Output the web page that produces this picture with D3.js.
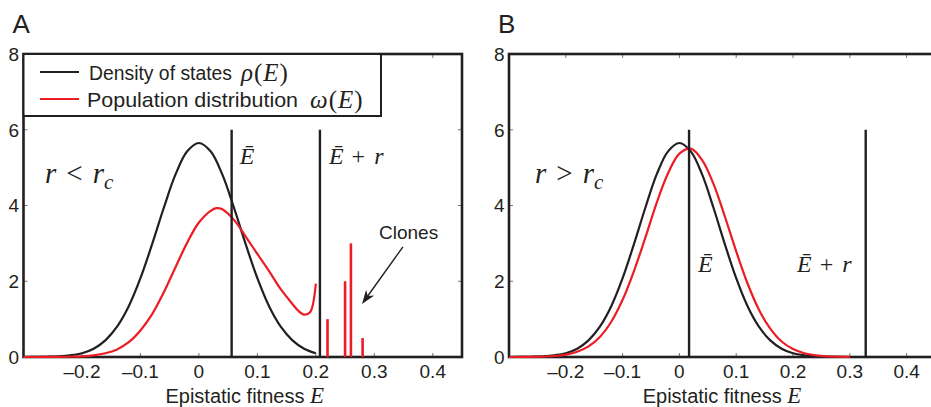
<!DOCTYPE html>
<html>
<head>
<meta charset="utf-8">
<script src="https://cdn.jsdelivr.net/npm/d3@7"></script>
<style>
body { margin: 0; background: #fff; }
text { font-family: "Liberation Sans", Arial, Helvetica, sans-serif; fill: #231f20; }
.math { font-family: "Liberation Serif", "Times New Roman", serif; font-style: italic; }
.rm { font-style: normal; }
</style>
</head>
<body>
<svg id="chart" width="931" height="407"></svg>
<script>
// energies sampled for the density of states and the population in panel B
var eGrid = [-0.30,-0.28,-0.26,-0.24,-0.22,-0.20,-0.18,-0.16,-0.14,-0.12,-0.10,-0.08,-0.06,-0.04,-0.02,
             0.00,0.02,0.04,0.06,0.08,0.10,0.12,0.14,0.16,0.18,0.20,0.22,0.24,0.26,0.28,0.30];
var densityStates = [0.000,0.002,0.007,0.018,0.045,0.10,0.22,0.44,0.80,1.34,2.08,2.98,3.94,4.82,5.43,
                     5.65,5.43,4.82,3.94,2.98,2.08,1.34,0.80,0.44,0.22,0.10,0.045,0.018,0.007,0.002,0.000];
var populationB = [0.000,0.001,0.004,0.010,0.026,0.062,0.137,0.28,0.53,0.93,1.51,2.27,3.15,4.07,4.85,
                   5.37,5.50,5.20,4.57,3.71,2.79,1.94,1.25,0.75,0.41,0.21,0.10,0.044,0.018,0.007,0.002];

// panel A population (r < rc)
var popA_E = [-0.30,-0.28,-0.26,-0.24,-0.22,-0.20,-0.18,-0.16,-0.14,-0.12,-0.10,-0.08,-0.06,-0.04,-0.02,
              0.00,0.02,0.03,0.04,0.06,0.08,0.10,0.12,0.14,0.16,0.17,0.18,0.19,0.20];
var populationA = [0.000,0.000,0.001,0.002,0.007,0.018,0.043,0.098,0.20,0.39,0.70,1.13,1.71,2.37,3.02,
                   3.55,3.86,3.93,3.90,3.62,3.18,2.72,2.27,1.79,1.40,1.22,1.12,1.18,1.94];
var densityCutA = 0.20;

// clones beyond E + r
var cloneE = [0.22, 0.25, 0.26, 0.28];
var cloneH = [1.0, 2.0, 3.0, 0.5];

// mean fitness and mean + r
var eBarA = 0.056, eBarRA = 0.207;
var eBarB = 0.017, eBarRB = 0.328;
var markerTop = 6;

var xTicks = [-0.2, -0.1, 0, 0.1, 0.2, 0.3, 0.4];
var yTicks = [0, 2, 4, 6, 8];

var svg = d3.select("#chart");

function tickFmt(d) {
  if (d === 0) return "0";
  return (d < 0 ? "\u2013" : "") + Math.abs(d).toFixed(1);
}

function panel(left, right, letter) {
  var x = d3.scaleLinear().domain([-0.3, 0.45]).range([left, right]);
  var y = d3.scaleLinear().domain([0, 8]).range([357, 54]);
  var g = svg.append("g");

  // ticks inside the box
  xTicks.forEach(function (t) {
    g.append("line").attr("x1", x(t)).attr("x2", x(t)).attr("y1", y(0)).attr("y2", y(0) - 4)
      .attr("stroke", "#777").attr("stroke-width", 1);
    g.append("line").attr("x1", x(t)).attr("x2", x(t)).attr("y1", y(8)).attr("y2", y(8) + 4)
      .attr("stroke", "#777").attr("stroke-width", 1);
    g.append("text").attr("x", x(t)).attr("y", 378).attr("text-anchor", "middle")
      .style("font-size", "19px").text(tickFmt(t));
  });
  yTicks.forEach(function (t) {
    g.append("line").attr("x1", x(-0.3)).attr("x2", x(-0.3) + 4).attr("y1", y(t)).attr("y2", y(t))
      .attr("stroke", "#777").attr("stroke-width", 1);
    g.append("line").attr("x1", x(0.45)).attr("x2", x(0.45) - 4).attr("y1", y(t)).attr("y2", y(t))
      .attr("stroke", "#777").attr("stroke-width", 1);
    g.append("text").attr("x", x(-0.3) - 4.5).attr("y", y(t)).attr("dy", "0.36em")
      .attr("text-anchor", "end").style("font-size", "19px").text(t);
  });

  g.append("rect").attr("x", x(-0.3)).attr("y", y(8))
    .attr("width", x(0.45) - x(-0.3)).attr("height", y(0) - y(8))
    .attr("fill", "none").attr("stroke", "#231f20").attr("stroke-width", 2.6);

  var title = g.append("text").attr("x", (x(-0.3) + Math.min(x(0.45), 931)) / 2 + 2).attr("y", 403)
    .attr("text-anchor", "middle").style("font-size", "20px");
  title.append("tspan").text("Epistatic fitness ");
  title.append("tspan").attr("class", "math").style("font-size", "23px").text("E");

  g.append("text").attr("x", x(-0.3) - 11).attr("y", 33).style("font-size", "26px").text(letter);

  return { g: g, x: x, y: y };
}

function curve(p, es, vs, color, shape) {
  var pts = es.map(function (e, i) { return [e, vs[i]]; });
  var line = d3.line()
    .x(function (d) { return p.x(d[0]); })
    .y(function (d) { return p.y(d[1]); })
    .curve(shape);
  p.g.append("path").datum(pts).attr("d", line)
    .attr("fill", "none").attr("stroke", color).attr("stroke-width", 2.2)
    .attr("stroke-linejoin", "round");
}

function vline(p, e) {
  p.g.append("line").attr("x1", p.x(e)).attr("x2", p.x(e))
    .attr("y1", p.y(0)).attr("y2", p.y(markerTop))
    .attr("stroke", "#231f20").attr("stroke-width", 2.4);
}

function ebarLabel(p, xpx, ypx, plusR) {
  var t = p.g.append("text").attr("class", "math").attr("x", xpx).attr("y", ypx).style("font-size", "24px");
  t.append("tspan").text("\u0112");
  if (plusR) {
    t.append("tspan").attr("class", "rm").attr("dx", 8).text("+");
    t.append("tspan").attr("dx", 9).text("r");
  }
}

function ratioLabel(p, xpx, ypx, sym) {
  var t = p.g.append("text").attr("class", "math").attr("x", xpx).attr("y", ypx).style("font-size", "29px");
  t.append("tspan").text("r");
  t.append("tspan").attr("class", "rm").attr("dx", 10).text(sym);
  t.append("tspan").attr("dx", 10).text("r");
  t.append("tspan").attr("dy", 6).style("font-size", "21px").text("c");
}

var red = "#ed1c24", black = "#231f20";

// ----- panel A -----
var A = panel(23.5, 462, "A");
var cut = eGrid.filter(function (e) { return e <= densityCutA + 1e-9; });
curve(A, cut, densityStates.slice(0, cut.length), black, d3.curveCatmullRom);
curve(A, popA_E, populationA, red, d3.curveCatmullRom.alpha(0.5));
vline(A, eBarA);
vline(A, eBarRA);
cloneE.forEach(function (e, i) {
  A.g.append("line").attr("x1", A.x(e)).attr("x2", A.x(e))
    .attr("y1", A.y(0)).attr("y2", A.y(cloneH[i]))
    .attr("stroke", red).attr("stroke-width", 2.6);
});
ebarLabel(A, A.x(eBarA) + 8, 164, false);
ebarLabel(A, A.x(eBarRA) + 9, 164, true);
ratioLabel(A, 45, 183, "<");

A.g.append("text").attr("x", 379).attr("y", 239).style("font-size", "19px").text("Clones");
var x0 = A.x(0.349), y0 = A.y(2.91), x1 = A.x(0.279), y1 = A.y(1.40);
var ang = Math.atan2(y1 - y0, x1 - x0);
A.g.append("line").attr("x1", x0).attr("y1", y0)
  .attr("x2", x1 - 8 * Math.cos(ang)).attr("y2", y1 - 8 * Math.sin(ang))
  .attr("stroke", black).attr("stroke-width", 1.4);
var hl = 14, hw = 5;
A.g.append("path").attr("fill", black).attr("d",
  "M" + x1 + "," + y1 +
  "L" + (x1 - hl * Math.cos(ang) + hw * Math.sin(ang)) + "," + (y1 - hl * Math.sin(ang) - hw * Math.cos(ang)) +
  "L" + (x1 - hl * 0.7 * Math.cos(ang)) + "," + (y1 - hl * 0.7 * Math.sin(ang)) +
  "L" + (x1 - hl * Math.cos(ang) - hw * Math.sin(ang)) + "," + (y1 - hl * Math.sin(ang) + hw * Math.cos(ang)) + "Z");

// legend
var lg = A.g.append("g");
lg.append("rect").attr("x", 23.5).attr("y", 54).attr("width", 357.5).attr("height", 62)
  .attr("fill", "#fff").attr("stroke", black).attr("stroke-width", 2);
lg.append("line").attr("x1", 40).attr("x2", 79).attr("y1", 72).attr("y2", 72)
  .attr("stroke", black).attr("stroke-width", 2);
lg.append("line").attr("x1", 40).attr("x2", 79).attr("y1", 99).attr("y2", 99)
  .attr("stroke", red).attr("stroke-width", 2);

function mathLabel(t, sym) {
  t.append("tspan").attr("class", "math").style("font-size", "25px").text(sym);
  t.append("tspan").attr("class", "math rm").attr("dx", 1).style("font-size", "25px").text("(");
  t.append("tspan").attr("class", "math").attr("dx", 1).style("font-size", "25px").text("E");
  t.append("tspan").attr("class", "math rm").attr("dx", 1).style("font-size", "25px").text(")");
}
lg.append("text").attr("x", 89).attr("y", 80).style("font-size", "19.5px")
  .attr("textLength", 143).attr("lengthAdjust", "spacingAndGlyphs").text("Density of states");
mathLabel(lg.append("text").attr("x", 241).attr("y", 81), "\u03c1");
lg.append("text").attr("x", 87).attr("y", 107).style("font-size", "21px")
  .attr("textLength", 211).attr("lengthAdjust", "spacingAndGlyphs").text("Population distribution");
mathLabel(lg.append("text").attr("x", 310).attr("y", 108), "\u03c9");

// ----- panel B -----
var B = panel(509, 935, "B");
curve(B, eGrid, densityStates, black, d3.curveCatmullRom);
curve(B, eGrid, populationB, red, d3.curveCatmullRom);
vline(B, eBarB);
vline(B, eBarRB);
ebarLabel(B, B.x(eBarB) + 9, 272, false);
ebarLabel(B, 797, 272, true);
ratioLabel(B, 535, 183, ">");
</script>
</body>
</html>
